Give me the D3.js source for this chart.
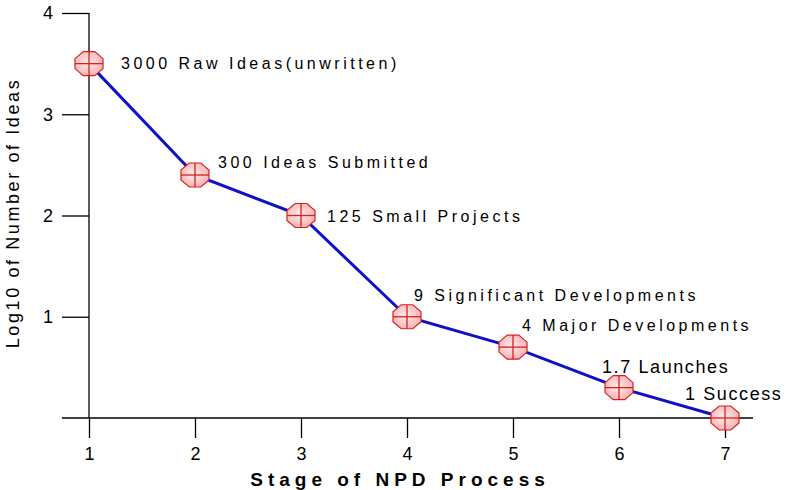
<!DOCTYPE html>
<html><head><meta charset="utf-8">
<script src="https://cdn.jsdelivr.net/npm/d3@7"></script>
<style>body{margin:0;background:#fff}svg{display:block}text{font-family:"Liberation Sans",Arial,sans-serif}</style>
</head><body><svg id="c" width="798" height="490"></svg>
<script>
const stages=[1,2,3,4,5,6,7];
const logValues=[3.5,2.4,2.0,1.0,0.7,0.3,0];
const labels=["3000 Raw Ideas(unwritten)","300 Ideas Submitted","125 Small Projects","9 Significant Developments","4 Major Developments","1.7 Launches","1 Success"];
const labelDx=[32,23,26,7,9,-17,-40];
const labelDy=[5,-7,6,-16,-16,-15,-18];
const xTicks=[1,2,3,4,5,6,7];
const yTicks=[1,2,3,4];

const svg=d3.select("#c");
const defs=svg.append("defs");
const g=defs.append("radialGradient").attr("id","mk").attr("cx","45%").attr("cy","45%").attr("r","60%");
g.append("stop").attr("offset","0%").attr("stop-color","#ffecec");
g.append("stop").attr("offset","100%").attr("stop-color","#f6b0b0");

const x=d3.scaleLinear().domain([1,7]).range([89,725]);
const y=d3.scaleLinear().domain([0,4]).range([418,13]);

svg.append("line").attr("x1",62).attr("x2",753).attr("y1",y(0)).attr("y2",y(0)).attr("stroke","#000").attr("stroke-width",1.3);
svg.append("line").attr("x1",x(1)).attr("x2",x(1)).attr("y1",y(4)).attr("y2",y(0)).attr("stroke","#000").attr("stroke-width",1.3);

const xa=svg.append("g").attr("transform",`translate(0,${y(0)})`)
 .call(d3.axisBottom(x).tickValues(xTicks).tickFormat(d3.format("d")).tickSize(20).tickPadding(9));
xa.select(".domain").remove();
xa.selectAll("line").attr("stroke","#000").attr("stroke-width",1.3);
xa.selectAll("text").attr("font-size",18).attr("fill","#000");

const ya=svg.append("g").attr("transform",`translate(${x(1)},0)`)
 .call(d3.axisLeft(y).tickValues(yTicks).tickFormat(d3.format("d")).tickSize(27).tickPadding(9));
ya.select(".domain").remove();
ya.selectAll("line").attr("stroke","#000").attr("stroke-width",1.3);
ya.selectAll("text").attr("font-size",18).attr("fill","#000");

const pts=stages.map((s,i)=>[x(s),y(logValues[i])]);
svg.append("path").attr("d",d3.line()(pts)).attr("fill","none").attr("stroke","#1010c8").attr("stroke-width",3);

const rx=14,ry=12;
const oct=d3.range(8).map(k=>{const a=Math.PI/8+k*Math.PI/4;return [rx*Math.cos(a)/Math.cos(Math.PI/8),ry*Math.sin(a)/Math.cos(Math.PI/8)];});
const m=svg.append("g").selectAll("g").data(pts).join("g").attr("transform",d=>`translate(${d[0]},${d[1]})`);
m.append("polygon").attr("points",oct.map(p=>p.join(",")).join(" ")).attr("fill","url(#mk)").attr("stroke","#d82020").attr("stroke-width",1.2);
m.append("line").attr("x1",-rx).attr("x2",rx).attr("stroke","#d82020").attr("stroke-width",1.3);
m.append("line").attr("y1",-ry).attr("y2",ry).attr("stroke","#d82020").attr("stroke-width",1.3);

svg.append("g").selectAll("text").data(labels).join("text")
 .attr("x",(d,i)=>pts[i][0]+labelDx[i]).attr("y",(d,i)=>pts[i][1]+labelDy[i])
 .attr("font-size",(d,i)=>i>=5?18:16)
 .attr("letter-spacing",(d,i)=>i>=5?1.6:3.5).text(d=>d);

svg.append("text").attr("x",400).attr("y",486).attr("text-anchor","middle").attr("font-size",19).attr("font-weight","bold").attr("letter-spacing",5).text("Stage of NPD Process");
svg.append("text").attr("transform","translate(19,213) rotate(-90)").attr("text-anchor","middle").attr("font-size",18).attr("letter-spacing",2.6).text("Log10 of Number of Ideas");
</script></body></html>
